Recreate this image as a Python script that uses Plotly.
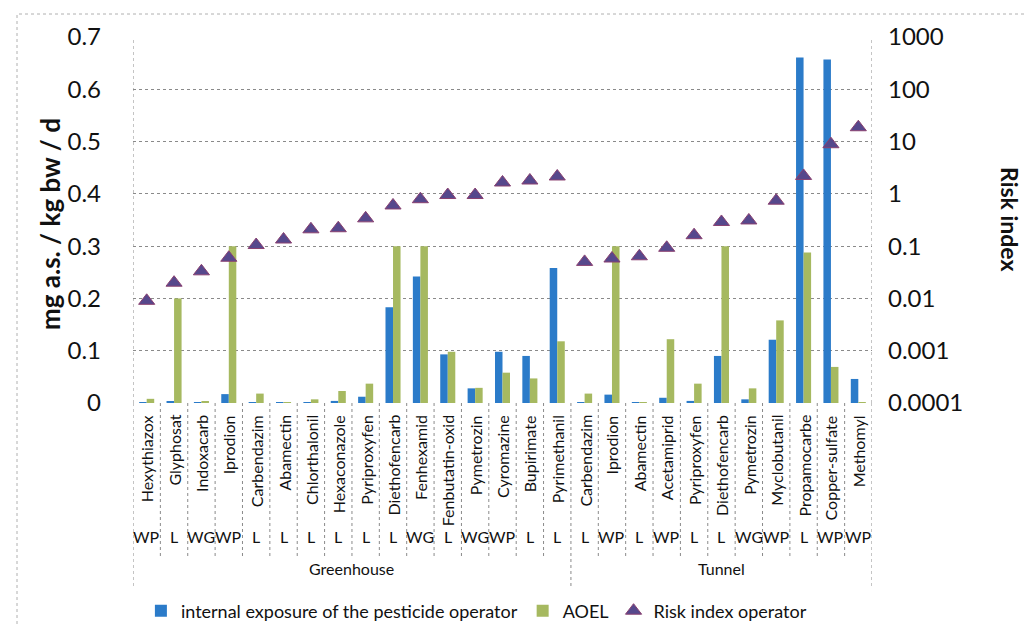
import plotly.graph_objects as go

categories = ["Hexythiazox", "Glyphosat", "Indoxacarb", "Iprodion", "Carbendazim", "Abamectin",
              "Chlorthalonil", "Hexaconazole", "Pyriproxyfen", "Diethofencarb", "Fenhexamid",
              "Fenbutatin-oxid", "Pymetrozin", "Cyromazine", "Bupirimate", "Pyrimethanil",
              "Carbendazim", "Iprodion", "Abamectin", "Acetamiprid", "Pyriproxyfen",
              "Diethofencarb", "Pymetrozin", "Myclobutanil", "Propamocarbe", "Copper-sulfate", "Methomyl"]
formulations = ["WP", "L", "WG", "WP", "L", "L", "L", "L", "L", "L", "WG", "L", "WG", "WP", "L", "L",
                "L", "WP", "L", "WP", "L", "L", "WG", "WP", "L", "WP", "WP"]
group_names = ["Greenhouse", "Tunnel"]
group_sizes = [16, 11]

exposure = [0.0005, 0.003, 0.0005, 0.017, 0.001, 0.0003, 0.001, 0.004, 0.012, 0.183, 0.242,
            0.093, 0.028, 0.098, 0.090, 0.258, 0.0005, 0.016, 0.0003, 0.010, 0.004, 0.090,
            0.007, 0.121, 0.661, 0.657, 0.046]
aoel = [0.008, 0.2, 0.002, 0.3, 0.018, 0.001, 0.007, 0.023, 0.037, 0.3, 0.3, 0.098, 0.029,
        0.058, 0.047, 0.118, 0.018, 0.3, 0.001, 0.122, 0.037, 0.3, 0.028, 0.158, 0.288, 0.069, 0.0005]
risk = [0.009, 0.02, 0.033, 0.06, 0.105, 0.134, 0.21, 0.22, 0.34, 0.6, 0.79, 0.95, 0.95, 1.65,
        1.8, 2.15, 0.05, 0.058, 0.064, 0.093, 0.162, 0.29, 0.31, 0.74, 2.2, 8.9, 18.8]

left_ticks = [0, 0.1, 0.2, 0.3, 0.4, 0.5, 0.6, 0.7]
right_ticks = [0.0001, 0.001, 0.01, 0.1, 1, 10, 100, 1000]
right_labels = ["0.0001", "0.001", "0.01", "0.1", "1", "10", "100", "1000"]

W, H = 1034, 625
L, R, T, B = 125, 864, 29, 395
FONT = "Lato"
GRID = "#8a8a8a"
TXT = "#111"


def py(ypix):
    return (B - ypix) / (B - T)


def px(xpix):
    return (xpix - L) / (R - L)


x = list(range(len(categories)))

fig = go.Figure()
fig.add_trace(go.Bar(x=x, y=exposure, name="internal exposure of the pesticide operator",
                     marker=dict(color="#2b7bc9", line=dict(width=0))))
fig.add_trace(go.Bar(x=x, y=aoel, name="AOEL",
                     marker=dict(color="#a6b960", line=dict(width=0))))
fig.add_trace(go.Scatter(x=x, y=risk, name="Risk index operator", mode="markers", yaxis="y2",
                         marker=dict(symbol="triangle-up", size=14, color="#56488c",
                                     line=dict(color="#8a4070", width=1))))

shapes = []
n = len(categories)
for i in range(n + 1):
    edge = i - 0.5
    long_line = i in (0, n) or i == group_sizes[0]
    shapes.append(dict(type="line", xref="x", yref="paper", x0=edge, x1=edge,
                       y0=py(395), y1=py(580 if long_line else 548),
                       line=dict(color=GRID, width=1, dash="dot")))
for edge in (-0.5, n - 0.5):
    shapes.append(dict(type="line", xref="x", yref="paper", x0=edge, x1=edge, y0=0, y1=1,
                       line=dict(color=GRID, width=1, dash="dot")))
shapes.append(dict(type="rect", xref="paper", yref="paper", x0=px(9), x1=px(1030),
                   y0=py(621), y1=py(6), line=dict(color="#b0b0b0", width=1, dash="dot")))

annotations = []
for i, c in enumerate(categories):
    annotations.append(dict(x=i, y=py(405), xref="x", yref="paper", text=c, textangle=-90,
                            showarrow=False, xanchor="center", yanchor="top",
                            font=dict(family=FONT, size=16, color=TXT)))
for i, f in enumerate(formulations):
    annotations.append(dict(x=i, y=py(540), xref="x", yref="paper", text=f, showarrow=False,
                            font=dict(family=FONT, size=16, color=TXT)))
start = 0
for g, s in zip(group_names, group_sizes):
    annotations.append(dict(x=start + (s - 1) / 2, y=py(572), xref="x", yref="paper", text=g,
                            showarrow=False, font=dict(family=FONT, size=16, color=TXT)))
    start += s
annotations.append(dict(x=px(42), y=py(216), xref="paper", yref="paper", xanchor="center",
                        yanchor="middle", text="<b>mg a.s. / kg bw / d</b>", textangle=-90,
                        showarrow=False, font=dict(family=FONT, size=26, color=TXT)))
annotations.append(dict(x=px(1002), y=py(211), xref="paper", yref="paper", xanchor="center",
                        yanchor="middle", text="<b>Risk index</b>", textangle=90, showarrow=False,
                        font=dict(family=FONT, size=23, color=TXT)))

fig.update_layout(
    width=W, height=H,
    margin=dict(l=L, r=W - R, t=T, b=H - B, pad=0),
    paper_bgcolor="white", plot_bgcolor="white",
    barmode="group", bargap=0.45, bargroupgap=0,
    font=dict(family=FONT, color=TXT),
    xaxis=dict(range=[-0.5, n - 0.5], showticklabels=False, showgrid=False, zeroline=False,
               showline=False, ticks=""),
    yaxis=dict(range=[0, 0.7], tickvals=left_ticks, tickfont=dict(family=FONT, size=24, color=TXT),
               showgrid=True, gridcolor=GRID, griddash="dot", gridwidth=1, zeroline=False,
               showline=False, ticks="", ticklabelstandoff=31),
    yaxis2=dict(type="log", range=[-4, 3], overlaying="y", side="right", tickmode="array",
                tickvals=right_ticks, ticktext=right_labels,
                tickfont=dict(family=FONT, size=24, color=TXT), showgrid=False,
                zeroline=False, showline=False, ticks="", ticklabelstandoff=15),
    legend=dict(orientation="h", xref="container", yref="container", x=0.453, y=1 - 603 / H,
                xanchor="center", yanchor="middle", font=dict(family=FONT, size=18, color=TXT),
                bgcolor="rgba(0,0,0,0)", traceorder="normal", itemwidth=30),
    shapes=shapes, annotations=annotations, showlegend=True,
)

fig.write_html("out.html")
